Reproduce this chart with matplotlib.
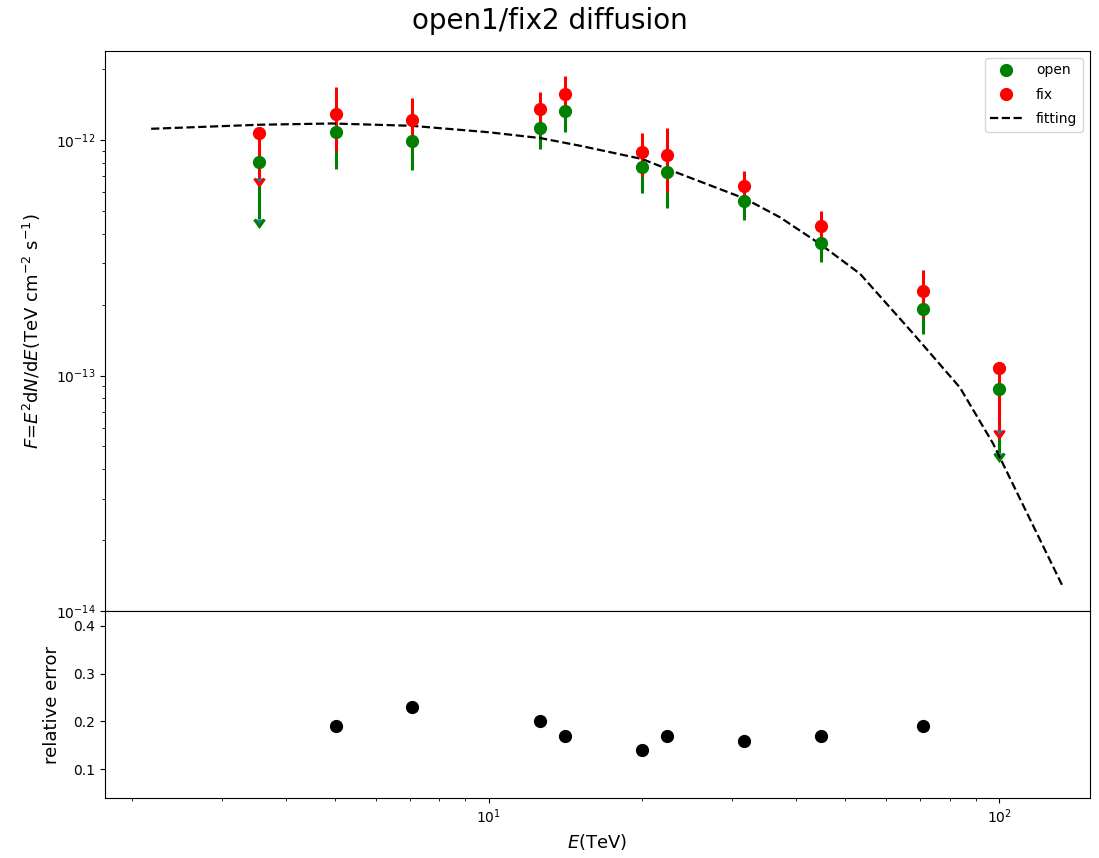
import numpy as np
import matplotlib
matplotlib.use("Agg")
import matplotlib.pyplot as plt
from matplotlib.lines import Line2D

# Energy bins (TeV)
energy = [3.55, 5.01, 7.08, 12.6, 14.1, 20.0, 22.4, 31.6, 44.7, 70.8, 100.0]

# "open" fit: flux and symmetric error (TeV cm^-2 s^-1)
open_flux = [8.04e-13, 1.075e-12, 9.84e-13, 1.12e-12, 1.33e-12, 7.63e-13,
             7.31e-13, 5.48e-13, 3.64e-13, 1.92e-13, 8.79e-14]
open_err = [3.41e-13, 3.24e-13, 2.38e-13, 2.1e-13, 2.5e-13, 1.7e-13,
            2.2e-13, 9.0e-14, 6.0e-14, 4.2e-14, 4.1e-14]
open_ul = [True, False, False, False, False, False, False, False, False, False, True]

# "fix" fit
fix_flux = [1.067e-12, 1.29e-12, 1.21e-12, 1.349e-12, 1.57e-12, 8.83e-13,
            8.61e-13, 6.38e-13, 4.30e-13, 2.28e-13, 1.08e-13]
fix_err = [3.77e-13, 3.9e-13, 2.9e-13, 2.5e-13, 3.0e-13, 1.8e-13,
           2.6e-13, 1.0e-13, 6.7e-14, 5.3e-14, 4.95e-14]
fix_ul = [True, False, False, False, False, False, False, False, False, False, True]

# Fitted spectral model, sampled in energy
fit_energy = [2.18, 3.56, 4.94, 7.06, 10.0, 12.6, 15.1, 20.0, 22.4, 31.8,
              37.2, 44.6, 53.4, 67.8, 83.8, 97.3, 113.5, 132.9]
fit_flux = [1.113e-12, 1.158e-12, 1.172e-12, 1.146e-12, 1.076e-12, 1.017e-12,
            9.43e-13, 8.28e-13, 7.51e-13, 5.62e-13, 4.69e-13, 3.61e-13,
            2.70e-13, 1.51e-13, 8.89e-14, 5.15e-14, 2.60e-14, 1.29e-14]

# Relative difference between the two fits (detected bins only)
rel_energy = [5.01, 7.08, 12.6, 14.1, 20.0, 22.4, 31.6, 44.7, 70.8]
rel_error = [0.19, 0.23, 0.20, 0.17, 0.14, 0.17, 0.16, 0.17, 0.19]

fig = plt.figure(figsize=(10.99, 8.58), dpi=100)
gs = fig.add_gridspec(2, 1, height_ratios=[3, 1], hspace=0,
                      left=0.0955, right=0.9918, top=0.9406, bottom=0.0699)
ax = fig.add_subplot(gs[0])
axr = fig.add_subplot(gs[1], sharex=ax)

ms = 8.5
for flux, err, ul, col in [(open_flux, open_err, open_ul, "green"),
                           (fix_flux, fix_err, fix_ul, "red")]:
    e = np.array(energy)
    flux = np.array(flux)
    err = np.array(err)
    ul = np.array(ul)
    det = ~ul
    # detected bins: plain symmetric bars, no caps
    ax.errorbar(e[det], flux[det], yerr=err[det], fmt="none", ecolor=col,
                elinewidth=2.2, capsize=0, zorder=2)
    # upper limits: bar down to the limit, ending in an arrow head
    ax.errorbar(e[ul], flux[ul], yerr=err[ul], uplims=True, fmt="none",
                ecolor=col, elinewidth=2.2, capsize=3.5, capthick=2.2, zorder=2)

ax.plot(energy, open_flux, "o", color="green", ms=ms, zorder=3)
ax.plot(energy, fix_flux, "o", color="red", ms=ms, zorder=3)
ax.plot(fit_energy, fit_flux, "--", color="black", lw=1.6, zorder=2.5)

ax.set_xscale("log")
ax.set_yscale("log")
ax.set_ylim(1e-14, 2.38e-12)
ax.tick_params(labelbottom=False)
ax.set_ylabel(r"$F$=$E^2$d$N$/d$E$(TeV cm$^{-2}$ s$^{-1}$)", fontsize=13,
              labelpad=9)

handles = [
    Line2D([], [], marker="o", color="green", ls="none", ms=ms),
    Line2D([], [], marker="o", color="red", ls="none", ms=ms),
    Line2D([], [], color="black", ls="--", lw=1.6),
]
ax.legend(handles, ["open", "fix", "fitting"], loc="upper right", fontsize=10,
          labelspacing=0.75, handlelength=2.3, handletextpad=1.0)

axr.plot(rel_energy, rel_error, "o", color="black", ms=ms)
axr.set_ylim(0.04, 0.43)
axr.set_yticks([0.1, 0.2, 0.3, 0.4])
axr.set_ylabel("relative error", fontsize=13, labelpad=9)
axr.set_xlabel(r"$E$(TeV)", fontsize=13)

ax.set_xlim(1.77, 150.7)

fig.suptitle("open1/fix2 diffusion", fontsize=20, y=0.992)
fig.savefig("out.png", dpi=100)
